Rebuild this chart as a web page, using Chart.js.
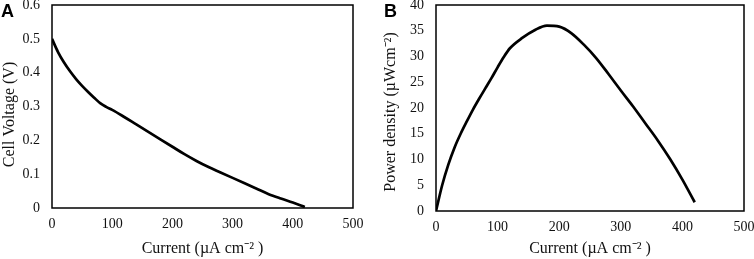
<!DOCTYPE html>
<html>
<head>
<meta charset="utf-8">
<script src="https://cdn.jsdelivr.net/npm/chart.js@4/dist/chart.umd.min.js"></script>
<style>
  html, body { margin: 0; padding: 0; background: #fff; }
  body { width: 754px; height: 259px; position: relative; overflow: hidden; }
  .panel { position: absolute; top: 0; width: 377px; height: 259px; }
  .tag { position: absolute; font-family: "Liberation Sans", Arial, sans-serif; font-weight: bold; font-size: 18px; color: #000; line-height: 1; }
</style>
</head>
<body>
<div class="panel" style="left:0"><canvas id="cA" width="377" height="259"></canvas></div>
<div class="panel" style="left:377px"><canvas id="cB" width="377" height="259"></canvas></div>
<div class="tag" style="left:1px; top:2px;">A</div>
<div class="tag" style="left:384px; top:2px;">B</div>
<script>
// Current density (µA cm-2)
const currentA = [0, 10, 20, 30, 40, 50, 60, 70, 80, 90, 100, 120, 140, 160, 180, 200, 220, 240, 260, 280, 300, 320, 340, 360, 380, 400, 420];
// Cell voltage (V), panel A
const cellVoltage = [0.500, 0.461, 0.430, 0.404, 0.381, 0.361, 0.343, 0.326, 0.310, 0.299, 0.290, 0.269, 0.247, 0.225, 0.203, 0.181, 0.159, 0.139, 0.121, 0.105, 0.089, 0.073, 0.057, 0.041, 0.028, 0.016, 0.003];

const currentB = [0, 10, 20, 30, 40, 50, 60, 70, 80, 90, 100, 110, 120, 140, 160, 180, 200, 220, 240, 260, 280, 300, 320, 340, 360, 380, 400, 420];
// Power density (µW cm-2), panel B
const powerDensity = [0, 5.0, 9.0, 12.3, 15.0, 17.4, 19.7, 21.8, 23.8, 25.8, 27.9, 29.9, 31.6, 33.6, 35.1, 36.0, 35.8, 34.5, 32.3, 29.7, 26.6, 23.4, 20.3, 17.0, 13.7, 10.1, 6.1, 1.7];

const xTicks = [0, 100, 200, 300, 400, 500];

const serif = "'Liberation Serif', 'Times New Roman', serif";

const framePlugin = {
  id: 'frame',
  beforeDatasetsDraw(chart) {
    const a = chart.chartArea, ctx = chart.ctx;
    ctx.save();
    ctx.strokeStyle = '#000';
    ctx.lineWidth = 1.5;
    ctx.strokeRect(a.left, a.top, a.right - a.left, a.bottom - a.top);
    ctx.restore();
  }
};

function makeChart(id, xs, ys, yMin, yMax, yStep, yTitle, pad, yWidth, xHeight, yTitlePad) {
  return new Chart(document.getElementById(id), {
    type: 'line',
    data: {
      datasets: [{
        data: xs.map((x, i) => ({ x: x, y: ys[i] })),
        borderColor: '#000',
        borderWidth: 2.7,
        pointRadius: 0,
        fill: false,
        cubicInterpolationMode: 'monotone'
      }]
    },
    options: {
      responsive: false,
      animation: false,
      layout: { autoPadding: false, padding: pad },
      plugins: { legend: { display: false }, tooltip: { enabled: false } },
      scales: {
        x: {
          type: 'linear', min: 0, max: 500,
          afterBuildTicks: s => { s.ticks = xTicks.map(v => ({ value: v })); },
          afterFit: s => { s.height = xHeight; s.paddingLeft = 0; s.paddingRight = 0; },
          grid: { display: false, drawTicks: false },
          border: { display: false },
          ticks: { padding: 8, color: '#111', font: { family: serif, size: 14 }, maxRotation: 0 },
          title: { display: true, text: 'Current (µA cm⁻² )', color: '#111', font: { family: serif, size: 16 }, padding: { top: 1, bottom: 1 } }
        },
        y: {
          type: 'linear', min: yMin, max: yMax,
          ticks: { stepSize: yStep, padding: 12, color: '#111', font: { family: serif, size: 14 } },
          afterFit: s => { s.width = yWidth; s.paddingTop = 0; s.paddingBottom = 0; },
          grid: { display: false, drawTicks: false },
          border: { display: false },
          title: { display: true, text: yTitle, color: '#111', font: { family: serif, size: 16 }, padding: { top: yTitlePad, bottom: 0 } }
        }
      }
    },
    plugins: [framePlugin]
  });
}

makeChart('cA', currentA, cellVoltage, 0, 0.6, 0.1, 'Cell Voltage (V)    ', { left: 0, right: 24, top: 5, bottom: 0 }, 52, 51, 0);
makeChart('cB', currentB, powerDensity, 0, 40, 5, 'Power density (µWcm⁻²)  ', { left: 0, right: 10, top: 5, bottom: 0 }, 59, 48, 4);
</script>
</body>
</html>
